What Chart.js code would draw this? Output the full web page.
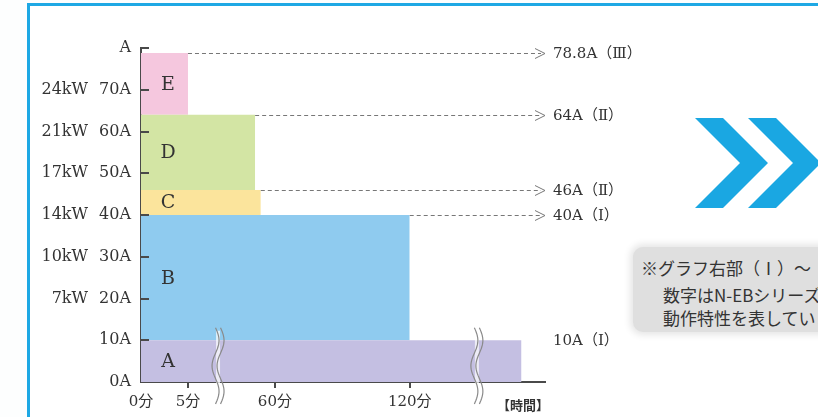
<!DOCTYPE html>
<html lang="ja">
<head>
<meta charset="utf-8">
<script src="https://cdn.jsdelivr.net/npm/chart.js@4/dist/chart.umd.min.js"></script>
<style>
    html, body { margin: 0; padding: 0; background: #fdfefe; }
    body { width: 818px; height: 417px; position: relative; overflow: hidden; }
    .frame { position: absolute; left: 27px; top: 3px; width: 900px; height: 500px; border: 3px solid #1ea8e4; box-sizing: border-box; background: #fff; }
    #chartWrap { position: absolute; left: 0; top: 0; width: 818px; height: 417px; }
    .chevrons { position: absolute; left: 0; top: 0; }
    .note { position: absolute; left: 633px; top: 247px; width: 240px; height: 85px; border-radius: 10px; background: #dfdfdf; box-shadow: 0 0 7px 3px #e6e6e6; font-family: "Noto Sans CJK JP", sans-serif; font-size: 17px; color: #333; }
    .note div { position: absolute; white-space: nowrap; line-height: 20px; }
</style>
</head>
<body>
<div class="frame"></div>
<svg class="chevrons" width="818" height="417">
    <polygon points="695,118 723,118 768,163 723,208 695,208 740,163" fill="#1aa7e2"/>
    <polygon points="748,118 776,118 821,163 776,208 748,208 793,163" fill="#1aa7e2"/>
</svg>
<div class="note">
    <div style="left: 8px; top: 11px;">※グラフ右部（Ⅰ）～（</div>
    <div style="left: 30px; top: 38px;">数字はN-EBシリーズ</div>
    <div style="left: 30px; top: 61px;">動作特性を表しています</div>
</div>
<div id="chartWrap"><canvas id="chart"></canvas></div>
<script>
// blocks, bottom to top (amps); x ends are in axis units (1 unit = the 0–5分 span, the axis is broken)
const seriesNames = ["A", "B", "C", "D", "E"];
const seriesLow = [0, 10, 40, 46, 64];
const seriesHigh = [10, 40, 46, 64, 78.8];
const seriesEnd = [8.1, 5.72, 2.55, 2.43, 1.0];
const seriesColors = ["#c4bfe2", "#8fcbef", "#fbe49c", "#d3e5a4", "#f5c7de"];

const ampTicks = [0, 10, 20, 30, 40, 50, 60, 70, 80];
const ampLabels = ["0A", "10A", "20A", "30A", "40A", "50A", "60A", "70A", "A"];
const kwTicks = [20, 30, 40, 50, 60, 70];
const kwLabels = ["7kW", "10kW", "14kW", "17kW", "21kW", "24kW"];

const timeTickPos = [0, 1, 2.85, 5.72];
const timeLabels = ["0分", "5分", "60分", "120分"];
const breakPos = [1.64, 7.15];

// dashed guides: which block's top they start from, and the labels on the right
const guideFrom = ["E", "D", "C", "B"];
const sideValues = [78.8, 64, 46, 40, 10];
const sideLabels = ["78.8A（Ⅲ）", "64A（Ⅱ）", "46A（Ⅱ）", "40A（Ⅰ）", "10A（Ⅰ）"];

(function () {
    const serif = "'DejaVu Serif', 'Noto Sans CJK JP', serif";
    const axisColor = "#4a4a4a";
    const textColor = "#333";

    const datasets = seriesNames.map((name, i) => ({
        label: name,
        data: [
            { x: 0, y: seriesHigh[i] },
            { x: seriesEnd[i], y: seriesHigh[i] },
        ],
        fill: { value: seriesLow[i] },
        backgroundColor: seriesColors[i],
        borderWidth: 0,
        pointRadius: 0,
        tension: 0,
    }));

    const wave = (ctx, cx, top, bottom) => {
        ctx.beginPath();
        const steps = 40;
        for (let s = 0; s <= steps; s++) {
            const t = s / steps;
            const yy = top + (bottom - top) * t;
            const xx = cx + 3.5 * Math.sin(t * Math.PI * 3);
            if (s === 0) ctx.moveTo(xx, yy);
            else ctx.lineTo(xx, yy);
        }
        ctx.stroke();
    };

    const overlay = {
        id: "overlay",
        afterDraw(chart) {
            const { ctx } = chart;
            const x = chart.scales.x;
            const y = chart.scales.y;
            ctx.save();

            // inward ticks
            ctx.strokeStyle = axisColor;
            ctx.lineWidth = 2;
            ampTicks.slice(1).forEach((v) => {
                const py = Math.round(y.getPixelForValue(v));
                ctx.beginPath();
                ctx.moveTo(x.left - 1, py);
                ctx.lineTo(x.left + 8, py);
                ctx.stroke();
            });
            timeTickPos.slice(1).forEach((v) => {
                const px = Math.round(x.getPixelForValue(v));
                ctx.beginPath();
                ctx.moveTo(px, y.bottom);
                ctx.lineTo(px, y.bottom + 6);
                ctx.stroke();
            });

            // kW column
            ctx.fillStyle = textColor;
            ctx.font = "16px " + serif;
            ctx.textAlign = "right";
            ctx.textBaseline = "middle";
            kwTicks.forEach((v, i) => {
                ctx.fillText(kwLabels[i], x.left - 53, y.getPixelForValue(v));
            });

            // block letters
            ctx.font = "19px " + serif;
            ctx.textAlign = "center";
            seriesNames.forEach((name, i) => {
                const mid = (seriesLow[i] + seriesHigh[i]) / 2;
                ctx.fillText(name, x.getPixelForValue(0) + 27, y.getPixelForValue(mid) + 1);
            });

            // dashed guides with arrows
            ctx.strokeStyle = "#777";
            ctx.lineWidth = 1;
            guideFrom.forEach((name) => {
                const i = seriesNames.indexOf(name);
                const py = Math.round(y.getPixelForValue(seriesHigh[i])) + 0.5;
                ctx.setLineDash([4, 3]);
                ctx.beginPath();
                ctx.moveTo(x.getPixelForValue(seriesEnd[i]), py);
                ctx.lineTo(x.right - 4, py);
                ctx.stroke();
                ctx.setLineDash([]);
                ctx.beginPath();
                ctx.moveTo(x.right - 10, py - 5);
                ctx.lineTo(x.right, py);
                ctx.lineTo(x.right - 10, py + 5);
                ctx.stroke();
            });

            // labels on the right
            ctx.font = "15px " + serif;
            ctx.textAlign = "left";
            sideValues.forEach((v, i) => {
                ctx.fillText(sideLabels[i], x.right + 8, y.getPixelForValue(v) + 1);
            });

            // axis breaks
            breakPos.forEach((v) => {
                const cx = x.getPixelForValue(v);
                const top = y.getPixelForValue(13);
                const bottom = y.bottom + 22;
                ctx.fillStyle = "rgba(255,255,255,0.7)";
                ctx.fillRect(cx - 2, top + 3, 4, bottom - top - 6);
                ctx.strokeStyle = "#8a8a8a";
                ctx.lineWidth = 1.2;
                wave(ctx, cx - 2.5, top, bottom);
                wave(ctx, cx + 2.5, top, bottom);
            });

            // time unit
            ctx.fillStyle = textColor;
            ctx.font = "bold 13px 'Noto Sans CJK JP', sans-serif";
            ctx.textAlign = "center";
            ctx.fillText("【時間】", x.right - 22, y.bottom + 23);

            ctx.restore();
        },
    };

    new Chart(document.getElementById("chart").getContext("2d"), {
        type: "line",
        data: { datasets },
        options: {
            animation: false,
            responsive: true,
            maintainAspectRatio: false,
            layout: { padding: { top: 48, right: 273, left: 0, bottom: 0 } },
            scales: {
                x: {
                    type: "linear",
                    min: 0,
                    max: 8.6,
                    afterBuildTicks: (scale) => {
                        scale.ticks = timeTickPos.map((v) => ({ value: v }));
                    },
                    afterFit: (scale) => {
                        scale.height = 35;
                    },
                    grid: { display: false, drawTicks: false },
                    border: { display: true, color: axisColor, width: 2 },
                    ticks: {
                        autoSkip: false,
                        maxRotation: 0,
                        padding: 11,
                        color: textColor,
                        font: { family: serif, size: 15 },
                        callback: (value, index) => timeLabels[index],
                    },
                },
                y: {
                    min: 0,
                    max: 80,
                    afterBuildTicks: (scale) => {
                        scale.ticks = ampTicks.map((v) => ({ value: v }));
                    },
                    afterFit: (scale) => {
                        scale.width = 141;
                    },
                    grid: { display: false, drawTicks: false },
                    border: { display: true, color: axisColor, width: 2 },
                    ticks: {
                        padding: 10,
                        color: textColor,
                        font: { family: serif, size: 16 },
                        callback: (value, index) => ampLabels[index],
                    },
                },
            },
            plugins: {
                legend: { display: false },
                tooltip: { enabled: false },
            },
        },
        plugins: [overlay],
    });
})();
</script>
</body>
</html>
